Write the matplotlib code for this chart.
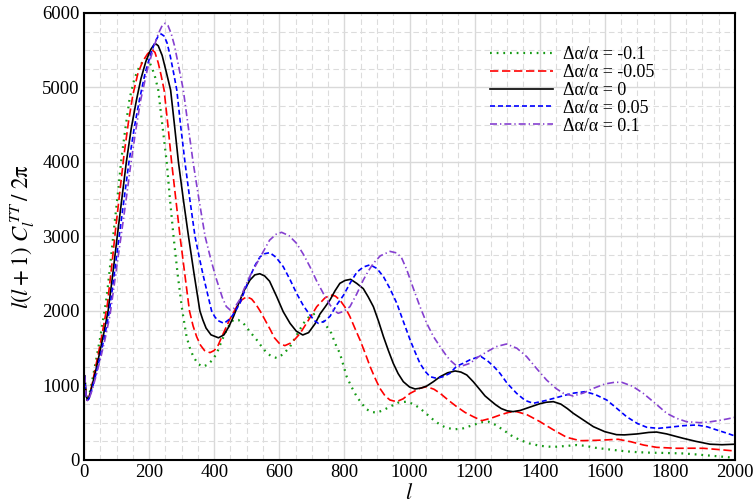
import numpy as np
import matplotlib
matplotlib.use('Agg')
import matplotlib.pyplot as plt
from matplotlib.ticker import MultipleLocator

plt.rcParams['font.family'] = 'serif'
plt.rcParams['font.serif'] = ['Liberation Serif', 'DejaVu Serif']
plt.rcParams['mathtext.fontset'] = 'stix'

# ── dati (l, l(l+1)C_l/2pi) ───────────────────────────────────────────
l_m10 = [2, 6, 10, 15, 25, 37, 50, 60, 70, 81, 92, 104, 115, 128, 140, 155, 170, 182, 192,
         201, 210, 219, 228, 241, 254, 264, 275, 288, 302, 315, 326, 336, 350, 365, 380, 394,
         408, 423, 438, 450, 459, 474, 490, 510, 531, 546, 561, 576, 592, 612, 633, 654, 674,
         693, 712, 730, 746, 760, 772, 786, 797, 807, 822, 838, 853, 868, 884, 899, 920, 940,
         965, 991, 1012, 1032, 1052, 1073, 1095, 1114, 1140, 1165, 1196, 1220, 1242, 1265,
         1288, 1312, 1339, 1370, 1401, 1441, 1480, 1514, 1540, 1570, 1616, 1660, 1700, 1740,
         1780, 1841, 1880, 1920, 1960, 2000]
c_m10 = [1130, 880, 800, 850, 1060, 1340, 1650, 1920, 2200, 2640, 3100, 3580, 4050, 4480,
         4850, 5120, 5280, 5360, 5380, 5340, 5250, 5130, 4966, 4480, 4000, 3500, 3000, 2480,
         2000, 1655, 1490, 1387, 1290, 1253, 1280, 1340, 1432, 1600, 1745, 1840, 1879, 1880,
         1834, 1720, 1610, 1520, 1440, 1390, 1369, 1420, 1521, 1680, 1834, 1930, 1970, 1890,
         1790, 1700, 1560, 1432, 1270, 1118, 980, 850, 760, 680, 645, 635, 670, 716, 770, 783,
         750, 694, 620, 540, 470, 430, 412, 425, 470, 505, 514, 470, 403, 330, 268, 220, 190,
         175, 188, 201, 190, 165, 140, 118, 105, 98, 95, 88, 75, 60, 45, 28]

l_m05 = [2, 6, 10, 15, 25, 37, 50, 61, 72, 85, 97, 110, 123, 136, 150, 165, 180, 195, 205,
         211, 218, 228, 237, 246, 258, 269, 282, 295, 310, 324, 335, 346, 358, 370, 387, 400,
         412, 428, 448, 469, 485, 500, 515, 528, 541, 556, 571, 585, 600, 617, 635, 650, 664,
         690, 715, 740, 758, 772, 786, 802, 817, 832, 848, 864, 879, 894, 909, 925, 940, 960,
         980, 1002, 1032, 1053, 1075, 1094, 1120, 1145, 1170, 1196, 1222, 1250, 1278, 1305,
         1329, 1360, 1401, 1440, 1483, 1524, 1580, 1641, 1680, 1720, 1759, 1821, 1870, 1903,
         1950, 2000]
c_m05 = [1130, 880, 800, 840, 1020, 1280, 1560, 1820, 2100, 2600, 3100, 3600, 4100, 4520,
         4900, 5180, 5350, 5450, 5495, 5500, 5470, 5330, 5160, 4966, 4480, 4000, 3500, 3000,
         2480, 2000, 1800, 1655, 1540, 1470, 1441, 1470, 1540, 1700, 1890, 2058, 2150, 2192,
         2160, 2090, 2000, 1880, 1760, 1640, 1565, 1535, 1570, 1630, 1700, 1880, 2058, 2175,
         2215, 2200, 2148, 2050, 1924, 1770, 1610, 1430, 1253, 1100, 962, 860, 805, 783, 820,
         895, 962, 984, 950, 895, 800, 716, 640, 581, 528, 560, 604, 640, 649, 610, 514, 410,
         304, 259, 265, 278, 245, 200, 170, 157, 158, 157, 140, 121]

l_0 = [2, 6, 10, 15, 25, 37, 50, 62, 74, 88, 102, 116, 130, 145, 161, 175, 190, 205, 215,
       221, 228, 240, 252, 266, 278, 290, 305, 321, 338, 356, 365, 375, 390, 413, 430, 445,
       459, 475, 490, 510, 525, 540, 555, 570, 592, 612, 633, 652, 672, 690, 710, 725, 740,
       756, 771, 786, 802, 819, 838, 858, 873, 889, 905, 920, 935, 950, 965, 981, 1000, 1017,
       1035, 1053, 1073, 1094, 1117, 1140, 1158, 1176, 1196, 1217, 1232, 1247, 1265, 1282,
       1300, 1318, 1340, 1370, 1400, 1420, 1442, 1465, 1485, 1503, 1534, 1565, 1600, 1636,
       1660, 1700, 1735, 1759, 1790, 1820, 1841, 1880, 1923, 1960, 2000]
c_0 = [1130, 880, 810, 830, 1000, 1220, 1480, 1730, 2000, 2480, 3000, 3500, 4000, 4450, 4830,
       5120, 5350, 5510, 5575, 5584, 5560, 5430, 5220, 4966, 4490, 4000, 3500, 3000, 2500,
       2000, 1880, 1770, 1680, 1640, 1680, 1790, 1924, 2100, 2260, 2416, 2485, 2500, 2470,
       2400, 2192, 1990, 1834, 1730, 1678, 1710, 1830, 1960, 2050, 2150, 2270, 2371, 2410,
       2425, 2370, 2300, 2190, 2058, 1860, 1655, 1470, 1298, 1160, 1051, 980, 953, 965, 993,
       1050, 1118, 1170, 1195, 1180, 1141, 1050, 940, 860, 805, 740, 690, 660, 649, 665, 710,
       755, 775, 783, 750, 690, 627, 537, 447, 380, 340, 337, 350, 370, 375, 350, 315, 291,
       250, 212, 205, 212]

l_p05 = [2, 6, 10, 15, 25, 37, 50, 64, 78, 93, 108, 123, 138, 154, 170, 188, 205, 218, 228,
         237, 246, 255, 265, 275, 285, 297, 310, 325, 341, 355, 367, 380, 392, 402, 412, 430,
         450, 465, 479, 495, 510, 525, 541, 556, 571, 590, 612, 633, 653, 674, 694, 708, 720,
         738, 756, 776, 797, 817, 838, 858, 879, 900, 920, 940, 961, 981, 1002, 1017, 1032,
         1048, 1063, 1084, 1104, 1124, 1145, 1165, 1186, 1206, 1220, 1240, 1260, 1278, 1300,
         1329, 1355, 1380, 1420, 1462, 1500, 1539, 1570, 1606, 1635, 1667, 1700, 1729, 1764,
         1800, 1840, 1882, 1915, 1944, 1975, 2000]
c_p05 = [1130, 880, 800, 820, 960, 1160, 1400, 1680, 2000, 2500, 3000, 3500, 4000, 4450,
         4830, 5200, 5450, 5610, 5690, 5718, 5690, 5600, 5420, 5200, 4966, 4480, 4000, 3500,
         3000, 2700, 2460, 2220, 2000, 1920, 1870, 1834, 1900, 2000, 2103, 2290, 2460, 2610,
         2729, 2770, 2783, 2720, 2595, 2420, 2237, 2070, 1946, 1870, 1834, 1860, 1930, 2080,
         2210, 2371, 2520, 2590, 2620, 2570, 2460, 2300, 2103, 1860, 1610, 1450, 1298, 1190,
         1118, 1096, 1120, 1163, 1260, 1298, 1345, 1375, 1387, 1330, 1250, 1163, 1030, 895,
         800, 761, 800, 850, 895, 917, 880, 805, 700, 581, 490, 439, 425, 440, 460, 470, 445,
         403, 360, 322]

l_p10 = [2, 6, 10, 15, 25, 37, 50, 65, 80, 96, 112, 128, 143, 158, 174, 195, 215, 228, 240,
         249, 258, 268, 278, 290, 305, 320, 335, 353, 372, 388, 405, 425, 437, 449, 462, 478,
         495, 510, 531, 551, 570, 590, 607, 630, 653, 674, 694, 715, 735, 756, 770, 781, 800,
         817, 838, 858, 874, 889, 910, 940, 960, 975, 991, 1012, 1032, 1053, 1073, 1094, 1110,
         1124, 1140, 1155, 1186, 1210, 1237, 1265, 1298, 1330, 1360, 1390, 1421, 1450, 1473,
         1503, 1535, 1565, 1600, 1630, 1652, 1685, 1718, 1755, 1790, 1820, 1851, 1892, 1920,
         1950, 1975, 2000]
c_p10 = [1130, 880, 800, 815, 940, 1130, 1350, 1630, 1950, 2450, 2950, 3450, 3950, 4400,
         4830, 5250, 5550, 5720, 5830, 5862, 5830, 5720, 5560, 5300, 4966, 4480, 4000, 3500,
         3000, 2720, 2450, 2180, 2060, 2013, 2040, 2150, 2330, 2470, 2640, 2800, 2950, 3030,
         3056, 3010, 2908, 2760, 2595, 2400, 2237, 2080, 2000, 1969, 2000, 2058, 2230, 2416,
         2540, 2640, 2740, 2800, 2780, 2720, 2560, 2300, 2060, 1834, 1660, 1521, 1420, 1342,
         1280, 1253, 1298, 1380, 1450, 1520, 1557, 1500, 1387, 1230, 1074, 960, 895, 859, 900,
         962, 1020, 1043, 1043, 990, 895, 760, 627, 560, 514, 501, 510, 530, 550, 573]

labels = ['Δα/α = -0.1', 'Δα/α = -0.05', 'Δα/α = 0', 'Δα/α = 0.05', 'Δα/α = 0.1']

# ── figura ────────────────────────────────────────────────────────────
fig, ax = plt.subplots(figsize=(7.55, 5.03), dpi=100)
fig.subplots_adjust(left=0.1113, right=0.9735, top=0.9742, bottom=0.0855)

ax.plot(l_m10, c_m10, color='#159a15', lw=1.6, dashes=(0.8, 2.2), label=labels[0])
ax.plot(l_m05, c_m05, color='#ff0000', lw=1.2, dashes=(5, 2.2), label=labels[1])
ax.plot(l_0, c_0, color='black', lw=1.2, label=labels[2])
ax.plot(l_p05, c_p05, color='#0000ff', lw=1.2, dashes=(3, 1.8), label=labels[3])
ax.plot(l_p10, c_p10, color='#8540d0', lw=1.2, dashes=(4.2, 1.8, 0.8, 1.8), label=labels[4])

ax.set_xlim(0, 2000)
ax.set_ylim(0, 6000)
ax.xaxis.set_major_locator(MultipleLocator(200))
ax.xaxis.set_minor_locator(MultipleLocator(50))
ax.yaxis.set_major_locator(MultipleLocator(1000))
ax.yaxis.set_minor_locator(MultipleLocator(250))
ax.grid(True, which='major', color='#d9d9d9', lw=1.0, ls='-')
ax.grid(True, which='minor', color='#dcdcdc', lw=0.8, ls=(0, (5, 3)))
ax.set_axisbelow(True)
ax.tick_params(which='both', length=0, labelsize=13.5, pad=3)
for sp in ax.spines.values():
    sp.set_linewidth(1.5)

ax.set_xlabel(r'$l$', fontsize=16, labelpad=2)
ax.set_ylabel(r'$l(l+1)\ C_l^{\,TT}\,/\ 2\mathrm{\pi}$', fontsize=16.5)
ax.yaxis.set_label_coords(-0.072, 0.5)

ax.legend(loc='upper left', bbox_to_anchor=(0.624, 0.926), frameon=False, fontsize=13,
          handlelength=3.5, handletextpad=0.55, labelspacing=0.05,
          borderpad=0, borderaxespad=0)

plt.savefig('out.png', dpi=100)
